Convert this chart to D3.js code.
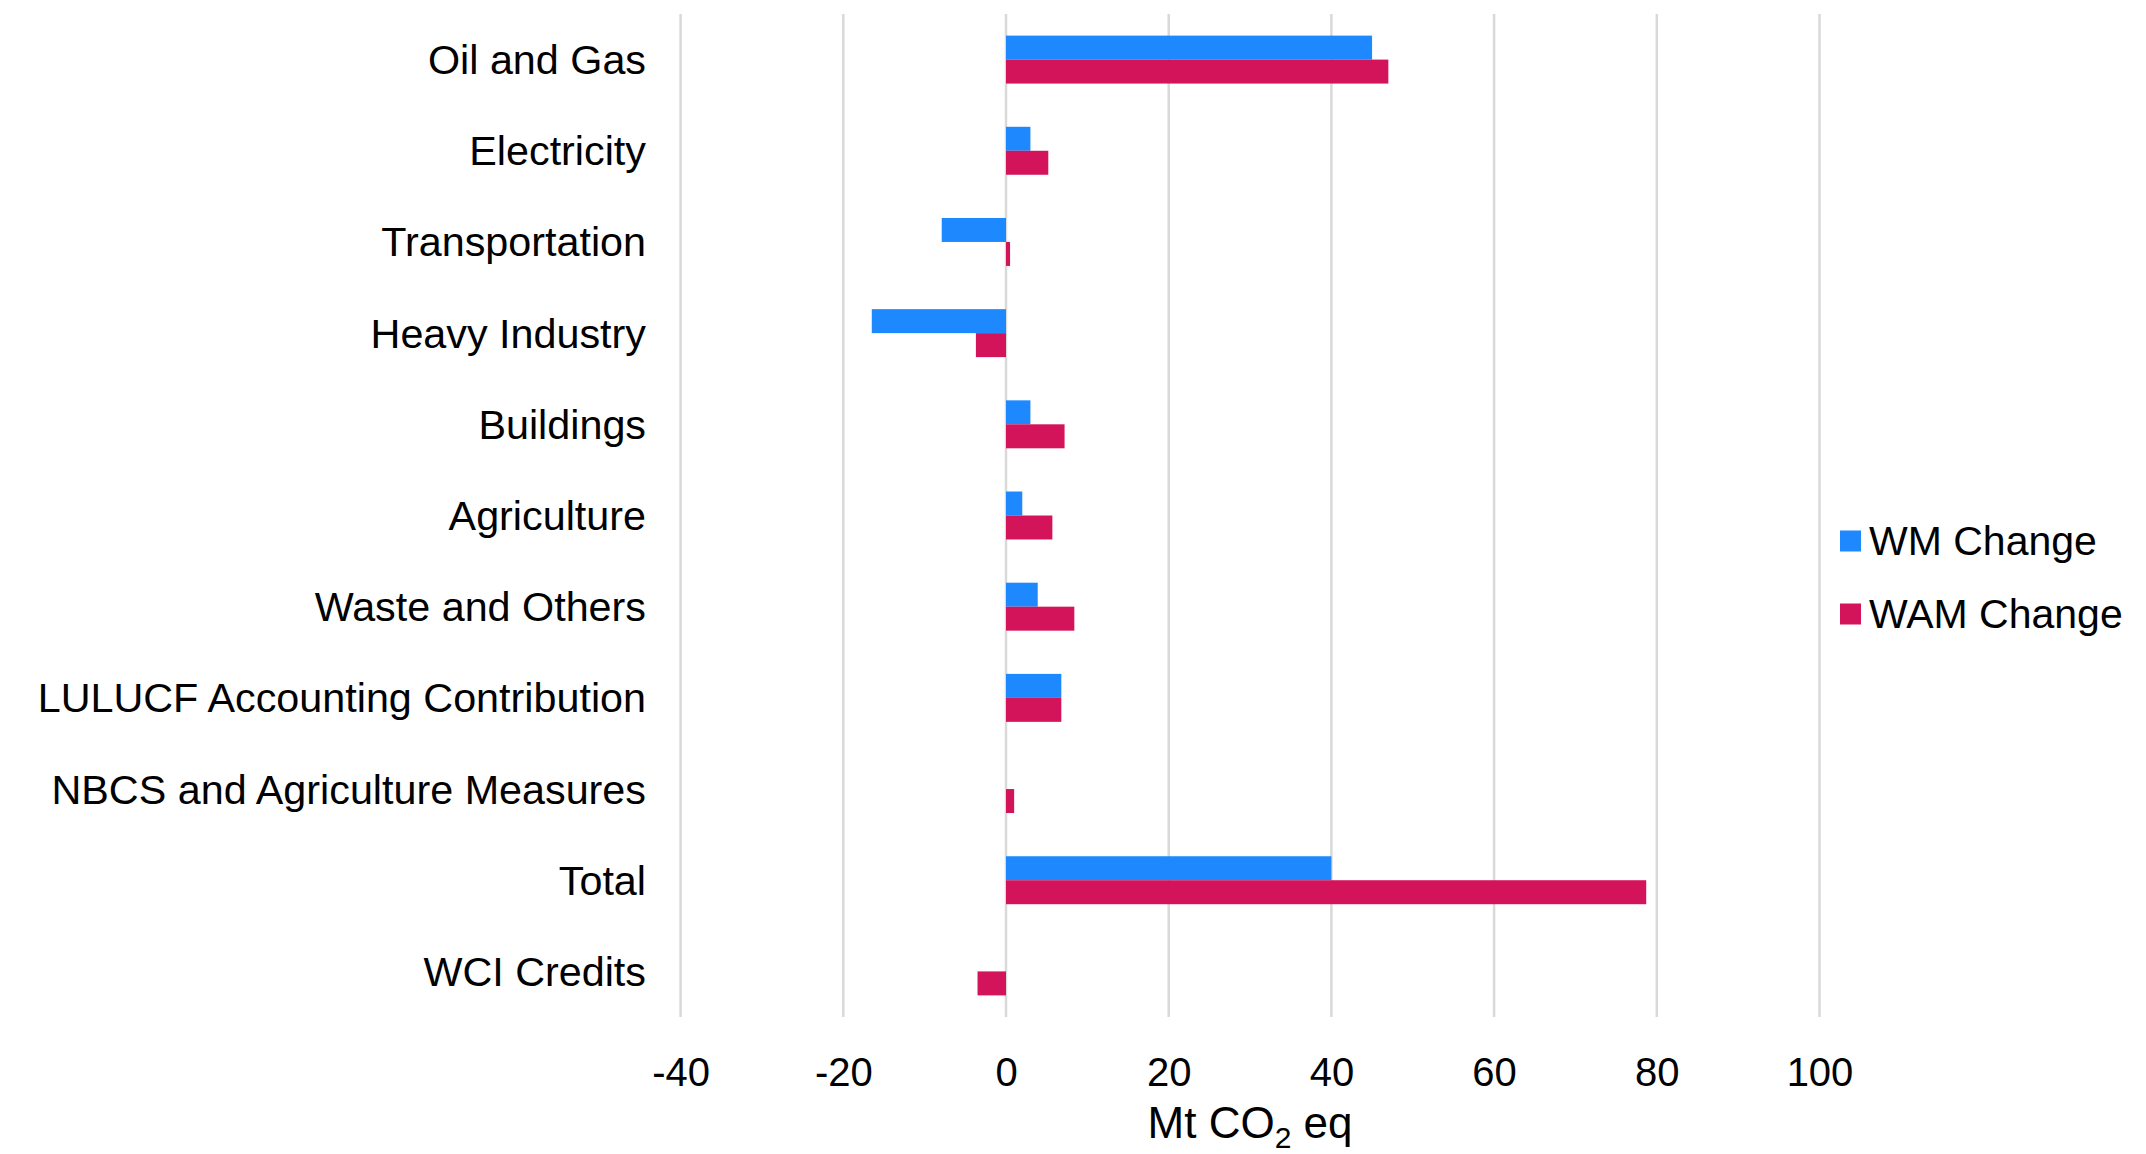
<!DOCTYPE html>
<html>
<head>
<meta charset="utf-8">
<script src="https://cdn.jsdelivr.net/npm/d3@7"></script>
<style>
  body { margin: 0; background: #fff; }
  svg text { font-family: "Liberation Sans", Arial, sans-serif; fill: #000; }
</style>
</head>
<body>
<div id="chart"></div>
<script>
// categories, top to bottom
const categories = [
    "Oil and Gas", "Electricity", "Transportation", "Heavy Industry", "Buildings",
    "Agriculture", "Waste and Others", "LULUCF Accounting Contribution",
    "NBCS and Agriculture Measures", "Total", "WCI Credits"
];
const seriesNames = ["WM Change", "WAM Change"];
const wmChange  = [45, 3.0, -7.9, -16.5, 3.0, 2.0, 3.9, 6.8, 0, 40, 0];
const wamChange = [47, 5.2, 0.5, -3.7, 7.2, 5.7, 8.4, 6.8, 1.0, 78.7, -3.5];
const xTicks = [-40, -20, 0, 20, 40, 60, 80, 100];
const colors = ["#1E88FF", "#D4145A"];

const width = 2146, height = 1154;
const plot = { left: 680.6, right: 1819.5, top: 14, bottom: 1017 };

const svg = d3.select("#chart").append("svg")
    .attr("width", width)
    .attr("height", height);

const x = d3.scaleLinear()
    .domain([-40, 100])
    .range([plot.left, plot.right]);

const y = d3.scaleBand()
    .domain(categories)
    .range([plot.top, plot.bottom])
    .paddingInner(0.474)
    .paddingOuter(0.237);

const ySub = d3.scaleBand()
    .domain(seriesNames)
    .range([0, y.bandwidth()]);

// gridlines
svg.append("g").selectAll("line")
    .data(xTicks)
    .join("line")
    .attr("x1", d => x(d)).attr("x2", d => x(d))
    .attr("y1", plot.top).attr("y2", plot.bottom)
    .attr("stroke", "#d9d9d9")
    .attr("stroke-width", 2.5);

// bars
const rows = categories.map((c, i) => ({ cat: c, vals: [wmChange[i], wamChange[i]] }));
const groups = svg.append("g").selectAll("g")
    .data(rows)
    .join("g")
    .attr("transform", d => `translate(0,${y(d.cat)})`);

groups.selectAll("rect")
    .data(d => d.vals.map((v, j) => ({ name: seriesNames[j], v: v, j: j })))
    .join("rect")
    .attr("x", d => x(Math.min(0, d.v)))
    .attr("width", d => Math.abs(x(d.v) - x(0)))
    .attr("y", d => ySub(d.name))
    .attr("height", ySub.bandwidth())
    .attr("fill", d => colors[d.j]);

// category labels
const yAxis = d3.axisLeft(y).tickSize(0).tickPadding(0);
const yg = svg.append("g")
    .attr("transform", "translate(646,0)")
    .call(yAxis);
yg.select(".domain").remove();
yg.selectAll("text")
    .style("font-family", "'Liberation Sans', Arial, sans-serif")
    .style("font-size", "41.3px")
    .attr("dy", "0.35em");

// x axis labels (plain hyphen for negatives, like the source)
const xAxis = d3.axisBottom(x).tickValues(xTicks).tickSize(0).tickPadding(0)
    .tickFormat(d => String(d));
const xg = svg.append("g")
    .attr("transform", "translate(0,1086)")
    .call(xAxis);
xg.select(".domain").remove();
xg.selectAll("text")
    .style("font-family", "'Liberation Sans', Arial, sans-serif")
    .style("font-size", "40px")
    .attr("dy", "0");

// axis title
const title = svg.append("text")
    .attr("x", (plot.left + plot.right) / 2)
    .attr("y", 1138)
    .attr("text-anchor", "middle")
    .style("font-size", "44px");
title.append("tspan").text("Mt CO");
title.append("tspan").text("2").attr("dy", 10).style("font-size", "30px");
title.append("tspan").text(" eq").attr("dy", -10);

// legend
const legend = svg.append("g").selectAll("g")
    .data(seriesNames)
    .join("g")
    .attr("transform", (d, i) => `translate(1840,${541 + i * 73})`);
legend.append("rect")
    .attr("x", 0).attr("y", -10.5)
    .attr("width", 21).attr("height", 21)
    .attr("fill", (d, i) => colors[i]);
legend.append("text")
    .attr("x", 29)
    .attr("y", 14)
    .style("font-size", "41px")
    .text(d => d);
</script>
</body>
</html>
